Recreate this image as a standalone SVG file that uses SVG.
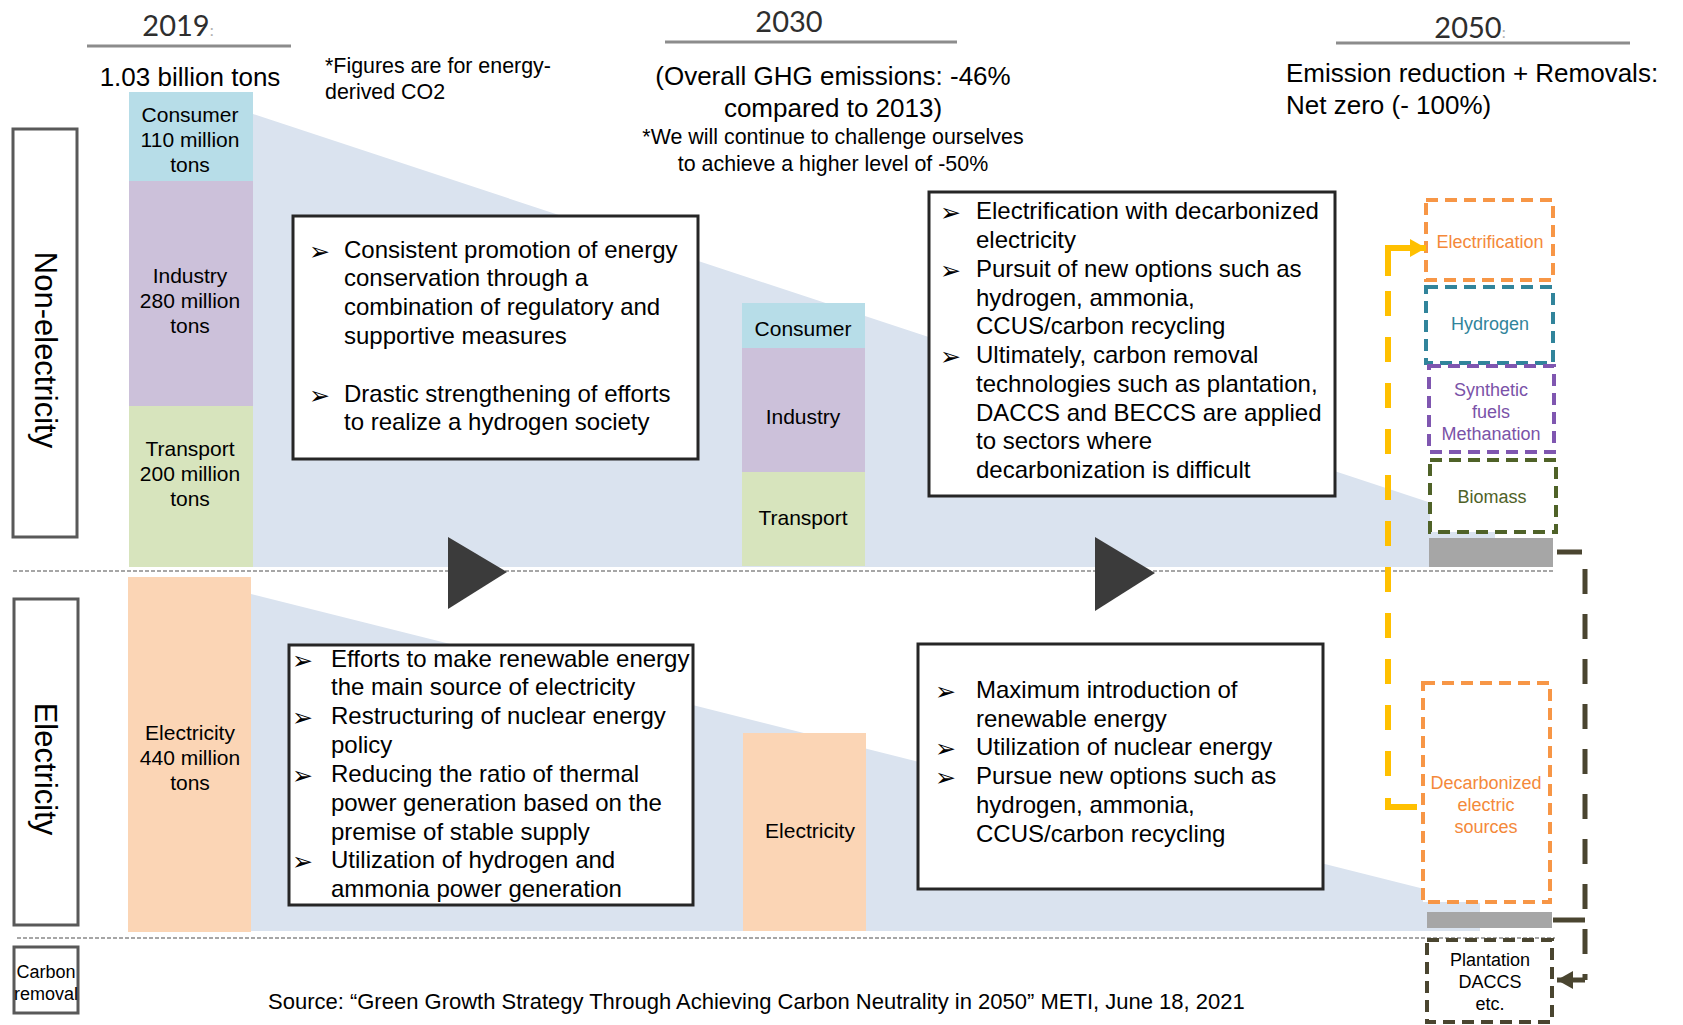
<svg xmlns="http://www.w3.org/2000/svg" width="1683" height="1025" viewBox="0 0 1683 1025">
<defs>
<style>
text { font-family: "Liberation Sans", Arial, sans-serif; fill: #000; }
.yr { font-family: Lato, "Liberation Sans", sans-serif; font-size: 29px; fill: #2e2e2e; text-anchor: middle; }
.yc { fill: #b0b0b0; }
.yl { stroke: #8c8c8c; stroke-width: 3; }
.h26 { font-size: 26px; }
.h21 { font-size: 21.4px; }
.mid { text-anchor: middle; }
.bar { font-size: 21px; text-anchor: middle; }
.box { fill: #fff; stroke: #262626; stroke-width: 3; }
.bt { font-size: 24px; }
.bul { font-family: "DejaVu Sans", sans-serif; font-size: 25px; }
.side { fill: #fff; stroke: #595959; stroke-width: 3; }
.vt { font-size: 31px; text-anchor: middle; }
.sep { stroke: #a6a6a6; stroke-width: 2; stroke-dasharray: 4 2; fill: none; }
.db { fill: #fff; stroke-width: 4; stroke-dasharray: 12 7; }
.lbl { font-size: 18px; text-anchor: middle; }
.wedge { fill: #dae3ef; }
.gbar { fill: #a6a6a6; }
.tri { fill: #3b3b3b; }
.cons { fill: #b7dde8; }
.ind { fill: #ccc1da; }
.trn { fill: #d7e4bd; }
.ele { fill: #fbd5b5; }
.yel { fill: none; stroke: #ffc000; stroke-width: 6; }
.dk { fill: none; stroke: #4a4530; stroke-width: 5; }
</style>
<marker id="ahY" markerUnits="userSpaceOnUse" markerWidth="18" markerHeight="20" refX="16" refY="10" orient="auto">
<path d="M0,1 L16,10 L0,19 z" fill="#ffc000"/>
</marker>
<marker id="ahD" markerUnits="userSpaceOnUse" markerWidth="18" markerHeight="20" refX="16" refY="10" orient="auto">
<path d="M0,1 L16,10 L0,19 z" fill="#4a4530"/>
</marker>
</defs>

<rect width="1683" height="1025" fill="#fff"/>

<!-- background wedges -->
<polygon class="wedge" points="253,114 1495,524 1495,567 253,567"/>
<polygon class="wedge" points="251,594 1480,903 1480,931 251,931"/>

<!-- separators -->
<line class="sep" x1="13" y1="571" x2="1553" y2="571"/>
<line class="sep" x1="17" y1="938" x2="1555" y2="938"/>

<!-- headers -->
<g id="header-2019">
<text class="yr" x="178" y="36">2019<tspan class="yc" font-size="16">:</tspan></text>
<line class="yl" x1="87" y1="46" x2="291" y2="46"/>
<text class="h26 mid" x="190" y="86">1.03 billion tons</text>
</g>
<g id="note-figures">
<text class="h21" x="325" y="73">*Figures are for energy-</text>
<text class="h21" x="325" y="99">derived CO2</text>
</g>
<g id="header-2030">
<text class="yr" x="789" y="32">2030</text>
<line class="yl" x1="665" y1="42" x2="957" y2="42"/>
<text class="h26 mid" x="833" y="85">(Overall GHG emissions: -46%</text>
<text class="h26 mid" x="833" y="117">compared to 2013)</text>
<text class="h21 mid" x="833" y="144">*We will continue to challenge ourselves</text>
<text class="h21 mid" x="833" y="171">to achieve a higher level of -50%</text>
</g>
<g id="header-2050">
<text class="yr" x="1470" y="38">2050<tspan class="yc" font-size="16">:</tspan></text>
<line class="yl" x1="1336" y1="43" x2="1630" y2="43"/>
<text class="h26" x="1286" y="82">Emission reduction + Removals:</text>
<text class="h26" x="1286" y="114">Net zero (- 100%)</text>
</g>

<!-- side labels -->
<g id="side-non-electricity">
<rect class="side" x="13" y="129" width="64" height="408"/>
<text class="vt" transform="translate(35,350) rotate(90)">Non-electricity</text>
</g>
<g id="side-electricity">
<rect class="side" x="14" y="599" width="64" height="326"/>
<text class="vt" transform="translate(35,769) rotate(90)">Electricity</text>
</g>
<g id="side-carbon-removal">
<rect class="side" x="14" y="947" width="64" height="66"/>
<text class="lbl" x="46" y="978">Carbon</text>
<text class="lbl" x="46" y="1000">removal</text>
</g>

<!-- 2019 bars -->
<g id="bar2019-consumer">
<rect class="cons" x="129" y="92" width="124" height="89"/>
<text class="bar" x="190" y="122">Consumer</text>
<text class="bar" x="190" y="147">110 million</text>
<text class="bar" x="190" y="172">tons</text>
</g>
<g id="bar2019-industry">
<rect class="ind" x="129" y="181" width="124" height="225"/>
<text class="bar" x="190" y="283">Industry</text>
<text class="bar" x="190" y="308">280 million</text>
<text class="bar" x="190" y="333">tons</text>
</g>
<g id="bar2019-transport">
<rect class="trn" x="129" y="406" width="124" height="161"/>
<text class="bar" x="190" y="456">Transport</text>
<text class="bar" x="190" y="481">200 million</text>
<text class="bar" x="190" y="506">tons</text>
</g>
<g id="bar2019-electricity">
<rect class="ele" x="128" y="577" width="123" height="355"/>
<text class="bar" x="190" y="740">Electricity</text>
<text class="bar" x="190" y="765">440 million</text>
<text class="bar" x="190" y="790">tons</text>
</g>

<!-- 2030 bars -->
<g id="bar2030-consumer">
<rect class="cons" x="742" y="303" width="123" height="45"/>
<text class="bar" x="803" y="336">Consumer</text>
</g>
<g id="bar2030-industry">
<rect class="ind" x="742" y="348" width="123" height="124"/>
<text class="bar" x="803" y="424">Industry</text>
</g>
<g id="bar2030-transport">
<rect class="trn" x="742" y="472" width="123" height="94"/>
<text class="bar" x="803" y="525">Transport</text>
</g>
<g id="bar2030-electricity">
<rect class="ele" x="743" y="733" width="123" height="198"/>
<text class="bar" x="810" y="838">Electricity</text>
</g>

<!-- play triangles -->
<polygon class="tri" points="448,537 448,609 507,572"/>
<polygon class="tri" points="1095,537 1095,611 1155,573"/>

<!-- policy boxes -->
<g id="box-nonelec-2030">
<rect class="box" x="293" y="216" width="405" height="243"/>
<text class="bul" x="309" y="260">➢</text>
<text class="bul" x="309" y="404">➢</text>
<text class="bt" x="344" y="258">Consistent promotion of energy</text>
<text class="bt" x="344" y="286">conservation through a</text>
<text class="bt" x="344" y="315">combination of regulatory and</text>
<text class="bt" x="344" y="344">supportive measures</text>
<text class="bt" x="344" y="402">Drastic strengthening of efforts</text>
<text class="bt" x="344" y="430">to realize a hydrogen society</text>
</g>
<g id="box-nonelec-2050">
<rect class="box" x="929" y="192" width="406" height="304"/>
<text class="bul" x="940" y="221">➢</text>
<text class="bul" x="940" y="279">➢</text>
<text class="bul" x="940" y="365">➢</text>
<text class="bt" x="976" y="219">Electrification with decarbonized</text>
<text class="bt" x="976" y="248">electricity</text>
<text class="bt" x="976" y="277">Pursuit of new options such as</text>
<text class="bt" x="976" y="306">hydrogen, ammonia,</text>
<text class="bt" x="976" y="334">CCUS/carbon recycling</text>
<text class="bt" x="976" y="363">Ultimately, carbon removal</text>
<text class="bt" x="976" y="392">technologies such as plantation,</text>
<text class="bt" x="976" y="421">DACCS and BECCS are applied</text>
<text class="bt" x="976" y="449">to sectors where</text>
<text class="bt" x="976" y="478">decarbonization is difficult</text>
</g>
<g id="box-elec-2030">
<rect class="box" x="289" y="645" width="404" height="260"/>
<text class="bul" x="292" y="669">➢</text>
<text class="bul" x="292" y="726">➢</text>
<text class="bul" x="292" y="784">➢</text>
<text class="bul" x="292" y="870">➢</text>
<text class="bt" x="331" y="667">Efforts to make renewable energy</text>
<text class="bt" x="331" y="695">the main source of electricity</text>
<text class="bt" x="331" y="724">Restructuring of nuclear energy</text>
<text class="bt" x="331" y="753">policy</text>
<text class="bt" x="331" y="782">Reducing the ratio of thermal</text>
<text class="bt" x="331" y="811">power generation based on the</text>
<text class="bt" x="331" y="840">premise of stable supply</text>
<text class="bt" x="331" y="868">Utilization of hydrogen and</text>
<text class="bt" x="331" y="897">ammonia power generation</text>
</g>
<g id="box-elec-2050">
<rect class="box" x="918" y="644" width="405" height="245"/>
<text class="bul" x="935" y="700">➢</text>
<text class="bul" x="935" y="757">➢</text>
<text class="bul" x="935" y="786">➢</text>
<text class="bt" x="976" y="698">Maximum introduction of</text>
<text class="bt" x="976" y="727">renewable energy</text>
<text class="bt" x="976" y="755">Utilization of nuclear energy</text>
<text class="bt" x="976" y="784">Pursue new options such as</text>
<text class="bt" x="976" y="813">hydrogen, ammonia,</text>
<text class="bt" x="976" y="842">CCUS/carbon recycling</text>
</g>

<!-- 2050 column -->
<g id="n2050-electrification">
<rect class="db" x="1426" y="200" width="127" height="80" stroke="#f79646"/>
<text class="lbl" x="1490" y="248" style="fill:#f4893a">Electrification</text>
</g>
<g id="n2050-hydrogen">
<rect class="db" x="1426" y="287" width="127" height="76" stroke="#31849b"/>
<text class="lbl" x="1490" y="330" style="fill:#31849b">Hydrogen</text>
</g>
<g id="n2050-synthetic">
<rect class="db" x="1429" y="366" width="125" height="86" stroke="#7f56b0"/>
<text class="lbl" x="1491" y="396" style="fill:#7a52a8">Synthetic</text>
<text class="lbl" x="1491" y="418" style="fill:#7a52a8">fuels</text>
<text class="lbl" x="1491" y="440" style="fill:#7a52a8">Methanation</text>
</g>
<g id="n2050-biomass">
<rect class="db" x="1430" y="460" width="126" height="72" stroke="#4f6228"/>
<text class="lbl" x="1492" y="503" style="fill:#4f6228">Biomass</text>
</g>
<g id="n2050-residual-nonelec">
<rect class="gbar" x="1429" y="538" width="124" height="29"/>
</g>
<g id="n2050-decarbonized">
<rect class="db" x="1423" y="683" width="127" height="219" stroke="#f79646"/>
<text class="lbl" x="1486" y="789" style="fill:#f4893a">Decarbonized</text>
<text class="lbl" x="1486" y="811" style="fill:#f4893a">electric</text>
<text class="lbl" x="1486" y="833" style="fill:#f4893a">sources</text>
</g>
<g id="n2050-residual-elec">
<rect class="gbar" x="1427" y="912" width="125" height="16"/>
</g>
<g id="n2050-plantation">
<rect class="db" x="1427" y="940" width="125" height="82" stroke="#4a4530"/>
<text class="lbl" x="1490" y="966">Plantation</text>
<text class="lbl" x="1490" y="988">DACCS</text>
<text class="lbl" x="1490" y="1010">etc.</text>
</g>

<!-- connectors -->
<g id="connectors">
<path class="yel" d="M1417,807 H1388 V798"/>
<path class="yel" d="M1388,776 V282" stroke-dasharray="25 21"/>
<path class="yel" d="M1388,276 V248 H1426" marker-end="url(#ahY)"/>
<path class="dk" d="M1557,552 H1585 V980" stroke-dasharray="25 20"/>
<path class="dk" d="M1553,920 H1585"/>
<path class="dk" d="M1585,980 H1557" marker-end="url(#ahD)"/>
</g>

<text id="source" x="268" y="1009" font-size="22">Source: “Green Growth Strategy Through Achieving Carbon Neutrality in 2050” METI, June 18, 2021</text>
</svg>
